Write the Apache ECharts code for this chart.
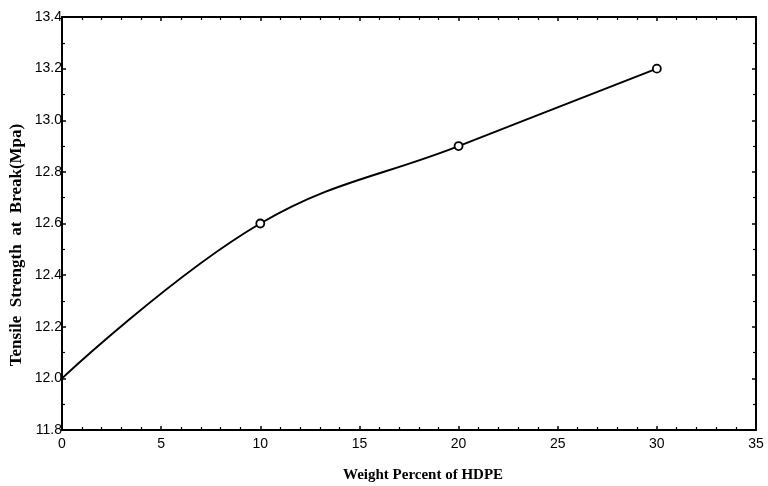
<!DOCTYPE html>
<html>
<head>
<meta charset="utf-8">
<script src="https://cdn.jsdelivr.net/npm/echarts@6/dist/echarts.min.js"></script>
<style>
  html, body {margin: 0; padding: 0; background: #fff;}
  #chart {width: 768px; height: 486px;}
</style>
</head>
<body>
<div id="chart"></div>
<script>
// weight percent of HDPE and tensile strength at break
const hdpePercent = [0, 10, 20, 30];
const tensileStrength = [12.0, 12.6, 12.9, 13.2];

const xTitle = "Weight Percent of HDPE";
const yTitle = "Tensile  Strength  at  Break(Mpa)";

const chart = echarts.init(document.getElementById("chart"));

const points = hdpePercent.map((x, i) => ({
  value: [x, tensileStrength[i]],
  symbol: i === 0 ? "none" : "circle",
}));

const labelFont = {fontFamily: "Liberation Sans", fontSize: 14, color: "#000"};
const titleFont = {fontFamily: "Liberation Serif", fontSize: 15, fontWeight: "bold", fill: "#000"};
const axisLine = {show: true, onZero: false, lineStyle: {color: "#000", width: 2}};
const tick = {show: true, inside: true, length: 4, lineStyle: {color: "#000", width: 1.5}};
const minor = {show: true, length: 3, lineStyle: {color: "#000", width: 1.2}};

const option = {
  animation: false,
  backgroundColor: "#fff",
  grid: {left: 62, right: 12, top: 17, bottom: 56, outerBoundsMode: "none", containLabel: false},
  graphic: [
    {
      type: "text", left: 343, top: 468,
      style: Object.assign({text: xTitle}, titleFont),
    },
    {
      type: "text", x: 17, y: 245, rotation: Math.PI / 2,
      style: Object.assign({text: yTitle, align: "center", verticalAlign: "middle"}, titleFont, {fontSize: 17}),
    },
  ],
  xAxis: [
    {
      type: "value", min: 0, max: 35, interval: 5,
      axisLine: axisLine, axisTick: tick,
      minorTick: Object.assign({splitNumber: 5}, minor),
      axisLabel: Object.assign({margin: 7}, labelFont),
      splitLine: {show: false},
    },
    {
      type: "value", position: "top", min: 0, max: 35, interval: 5,
      axisLine: axisLine, axisTick: tick,
      minorTick: Object.assign({splitNumber: 5}, minor),
      axisLabel: {show: false}, splitLine: {show: false},
    },
  ],
  yAxis: [
    {
      type: "value", min: 11.8, max: 13.4, interval: 0.2,
      axisLine: axisLine, axisTick: tick,
      minorTick: Object.assign({splitNumber: 2}, minor),
      axisLabel: Object.assign({margin: 0, formatter: (v) => v.toFixed(1)}, labelFont),
      splitLine: {show: false},
    },
    {
      type: "value", position: "right", min: 11.8, max: 13.4, interval: 0.2,
      axisLine: axisLine, axisTick: tick,
      minorTick: Object.assign({splitNumber: 2}, minor),
      axisLabel: {show: false}, splitLine: {show: false},
    },
  ],
  series: [
    {
      type: "line",
      data: points,
      smooth: 0.4,
      symbolSize: 8,
      lineStyle: {color: "#000", width: 2},
      itemStyle: {color: "#fff", borderColor: "#000", borderWidth: 1.8},
    },
  ],
};

chart.setOption(option);
</script>
</body>
</html>
